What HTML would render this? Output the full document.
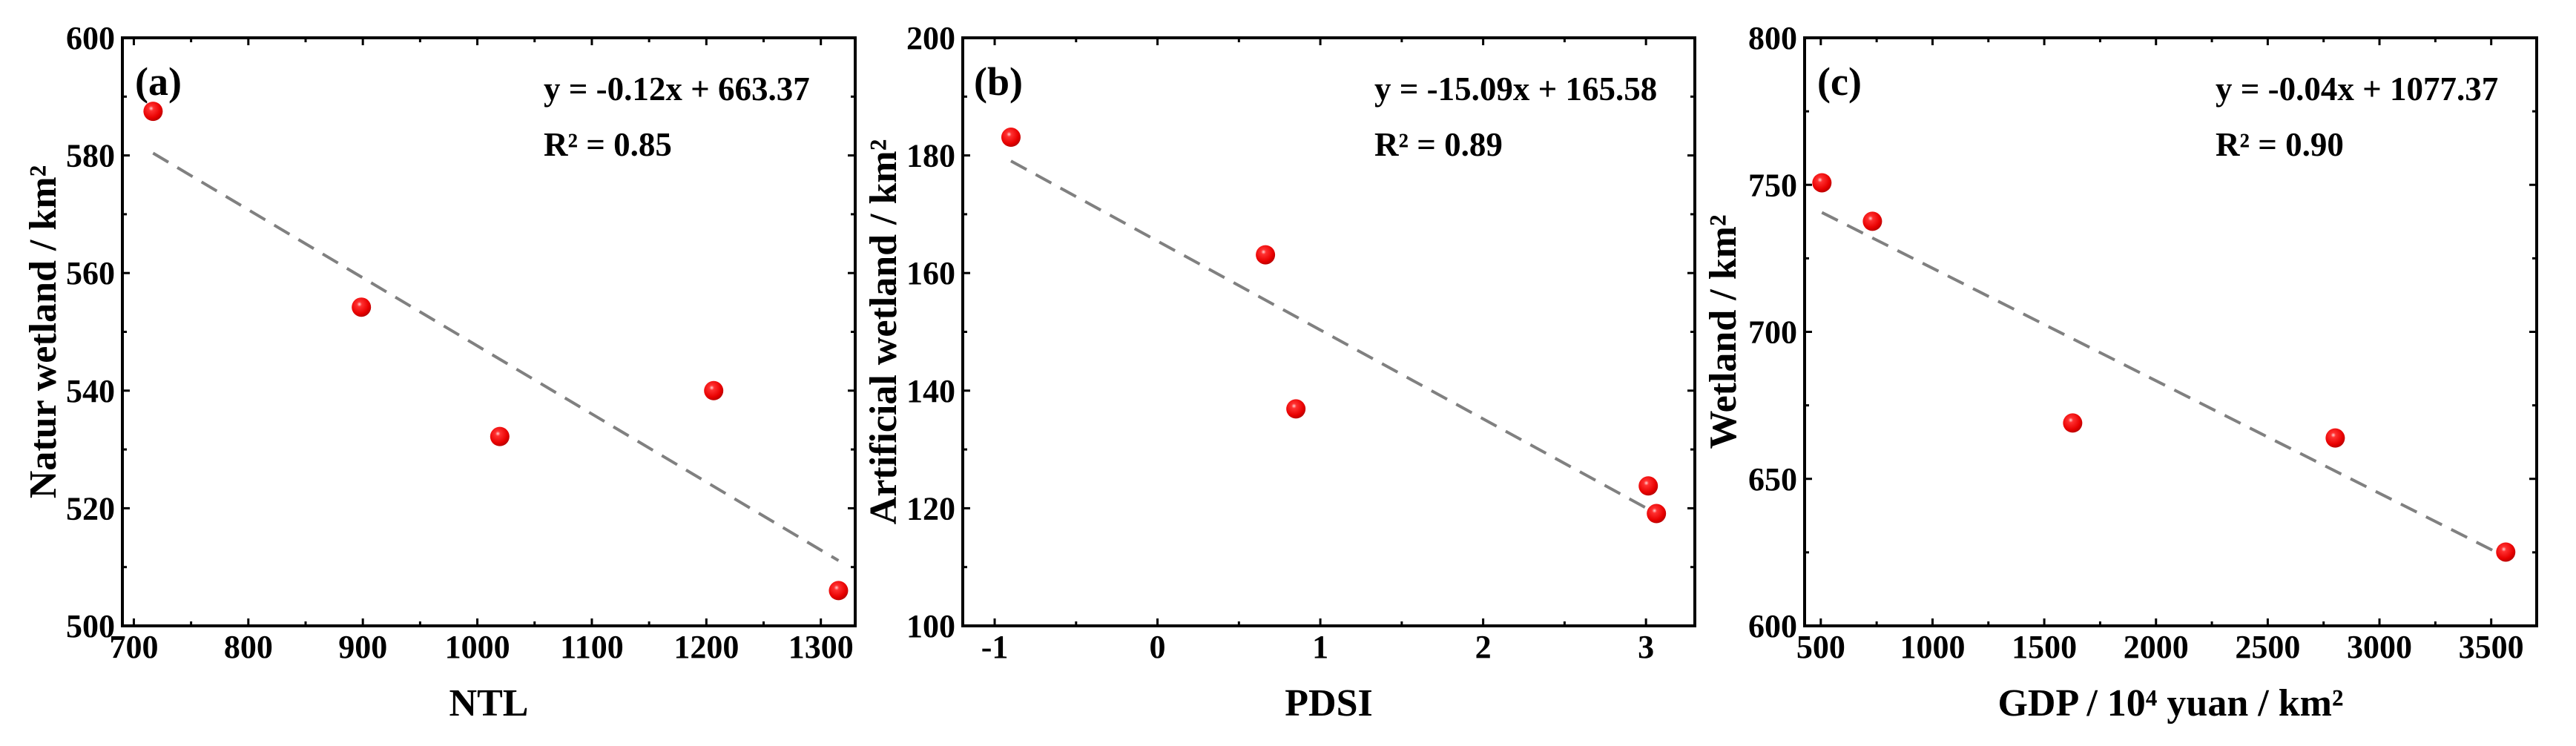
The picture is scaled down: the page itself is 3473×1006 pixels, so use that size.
<!DOCTYPE html>
<html><head><meta charset="utf-8">
<style>
html,body{margin:0;padding:0;background:#fff;}
svg{display:block;}
text{font-family:"Liberation Serif","DejaVu Serif",serif;font-weight:bold;fill:#000;}
</style></head>
<body>
<svg id="fig" width="3473" height="1006" viewBox="0 0 3473 1006" xmlns="http://www.w3.org/2000/svg">
<defs>
<radialGradient id="ball" cx="0.4" cy="0.35" r="0.7">
<stop offset="0" stop-color="#ffd0d0"/>
<stop offset="0.18" stop-color="#ff3030"/>
<stop offset="0.7" stop-color="#e80000"/>
<stop offset="1" stop-color="#b00000"/>
</radialGradient>
</defs>
</svg>
<script>
// Panel (a)
const aX = [716.8, 898.7, 1019.6, 1206.4, 1315.4];
const aY = [587.5, 554.2, 532.2, 540.0, 506.0];
const aXTicks = [700, 800, 900, 1000, 1100, 1200, 1300];
const aYTicks = [500, 520, 540, 560, 580, 600];
// Panel (b)
const bX = [-0.90, 0.663, 0.850, 3.014, 3.064];
const bY = [183.1, 163.1, 136.9, 123.8, 119.1];
const bXTicks = [-1, 0, 1, 2, 3];
const bYTicks = [100, 120, 140, 160, 180, 200];
// Panel (c)
const cX = [505, 731, 1627, 2802, 3565];
const cY = [750.7, 737.6, 669.0, 663.9, 625.1];
const cXTicks = [500, 1000, 1500, 2000, 2500, 3000, 3500];
const cYTicks = [600, 650, 700, 750, 800];

const NS = "http://www.w3.org/2000/svg";
const svg = document.getElementById('fig');
function mk(tag, attrs, parent){
  const e = document.createElementNS(NS, tag);
  for (const k in attrs) e.setAttribute(k, attrs[k]);
  (parent||svg).appendChild(e);
  return e;
}

const panels = [
  {id:'a', L:165, R:1153, T:51, B:844, xmin:690, xmax:1330, ymin:500, ymax:600,
   xs:aX, ys:aY, xt:aXTicks, yt:aYTicks, xminor:50, yminor:10,
   xtitle:'NTL', ytitle:'Natur wetland / km²', ytx:75,
   eq:'y = -0.12x + 663.37', r2:'R² = 0.85', eqx:733, label:'(a)', lx:182},
  {id:'b', L:1298, R:2285, T:51, B:844, xmin:-1.196, xmax:3.3, ymin:100, ymax:200,
   xs:bX, ys:bY, xt:bXTicks, yt:bYTicks, xminor:0.5, yminor:10,
   xtitle:'PDSI', ytitle:'Artificial wetland / km²', ytx:1208,
   eq:'y = -15.09x + 165.58', r2:'R² = 0.89', eqx:1853, label:'(b)', lx:1313},
  {id:'c', L:2433, R:3420, T:51, B:844, xmin:427.6, xmax:3703.5, ymin:600, ymax:800,
   xs:cX, ys:cY, xt:cXTicks, yt:cYTicks, xminor:250, yminor:25,
   xtitle:'GDP / 10⁴ yuan / km²', ytitle:'Wetland / km²', ytx:2340,
   eq:'y = -0.04x + 1077.37', r2:'R² = 0.90', eqx:2987, label:'(c)', lx:2450}
];

panels.forEach(p => {
  const g = mk('g', {});
  
  
  const sx = v => p.L + (v - p.xmin) / (p.xmax - p.xmin) * (p.R - p.L);
  const sy = v => p.B - (v - p.ymin) / (p.ymax - p.ymin) * (p.B - p.T);

  // ticks (major + minor), all four sides, inward
  const tg = mk('g', {stroke:'#000', 'stroke-width':3}, g);
  
  
  const xstep = p.xt[1] - p.xt[0];
  const xStart = p.xt[0] - xstep;
  for (let v = xStart; v <= p.xmax + 1e-9; v += p.xminor) {
    if (v < p.xmin - 1e-9) continue;
    const isMaj = p.xt.some(t => Math.abs(t - v) < 1e-6);
    const len = isMaj ? 10 : 6;
    const x = sx(v);
    mk('line', {x1:x, x2:x, y1:p.B, y2:p.B - len}, tg);
    mk('line', {x1:x, x2:x, y1:p.T, y2:p.T + len}, tg);
  }
  for (let v = p.ymin; v <= p.ymax + 1e-9; v += p.yminor) {
    const isMaj = p.yt.some(t => Math.abs(t - v) < 1e-6);
    const len = isMaj ? 10 : 6;
    const y = sy(v);
    mk('line', {x1:p.L, x2:p.L + len, y1:y, y2:y}, tg);
    mk('line', {x1:p.R, x2:p.R - len, y1:y, y2:y}, tg);
  }

  // frame
  const fr = mk('rect', {x:p.L, y:p.T, width:p.R - p.L, height:p.B - p.T, fill:'none', stroke:'#000', 'stroke-width':4}, g);
  
  

  // tick labels
  p.xt.forEach(v => {
    const t = mk('text', {x:sx(v), y:887, 'font-size':44, 'text-anchor':'middle'}, g);
    
    
    t.textContent = String(v);
  });
  p.yt.forEach(v => {
    const t = mk('text', {x:p.L - 10, y:sy(v) + 15, 'font-size':44, 'text-anchor':'end'}, g);
    
    
    t.textContent = String(v);
  });

  // axis titles
  const xt = mk('text', {x:(p.L + p.R) / 2, y:965, 'font-size':52, 'text-anchor':'middle'}, g);
  
  
  xt.textContent = p.xtitle;
  const cy = (p.T + p.B) / 2;
  const yt = mk('text', {x:p.ytx, y:cy, 'font-size':52, 'text-anchor':'middle', transform:'rotate(-90 ' + p.ytx + ' ' + cy + ')'}, g);
  
  
  yt.textContent = p.ytitle;

  // regression line (least squares from data)
  const n = p.xs.length;
  const mx = p.xs.reduce((a, b) => a + b, 0) / n;
  const my = p.ys.reduce((a, b) => a + b, 0) / n;
  let sxy = 0, sxx = 0;
  for (let i = 0; i < n; i++) { sxy += (p.xs[i] - mx) * (p.ys[i] - my); sxx += (p.xs[i] - mx) ** 2; }
  const k = sxy / sxx, b0 = my - k * mx;
  const x0 = Math.min(...p.xs), x1 = Math.max(...p.xs);
  const ln = mk('line', {x1:sx(x0), y1:sy(k * x0 + b0), x2:sx(x1), y2:sy(k * x1 + b0), stroke:'#808080', 'stroke-width':4, 'stroke-dasharray':'24 14'}, g);
  
  

  // points
  for (let i = 0; i < n; i++) {
    const c = mk('circle', {cx:sx(p.xs[i]), cy:sy(p.ys[i]), r:13, fill:'url(#ball)'}, g);
    
    
  }

  // annotations
  const eq = mk('text', {x:p.eqx, y:135, 'font-size':45}, g);
  
  
  eq.textContent = p.eq;
  const r2 = mk('text', {x:p.eqx, y:210, 'font-size':45}, g);
  
  
  r2.textContent = p.r2;
  const lb = mk('text', {x:p.lx, y:128, 'font-size':54}, g);
  
  
  lb.textContent = p.label;
});
</script>
</body></html>
